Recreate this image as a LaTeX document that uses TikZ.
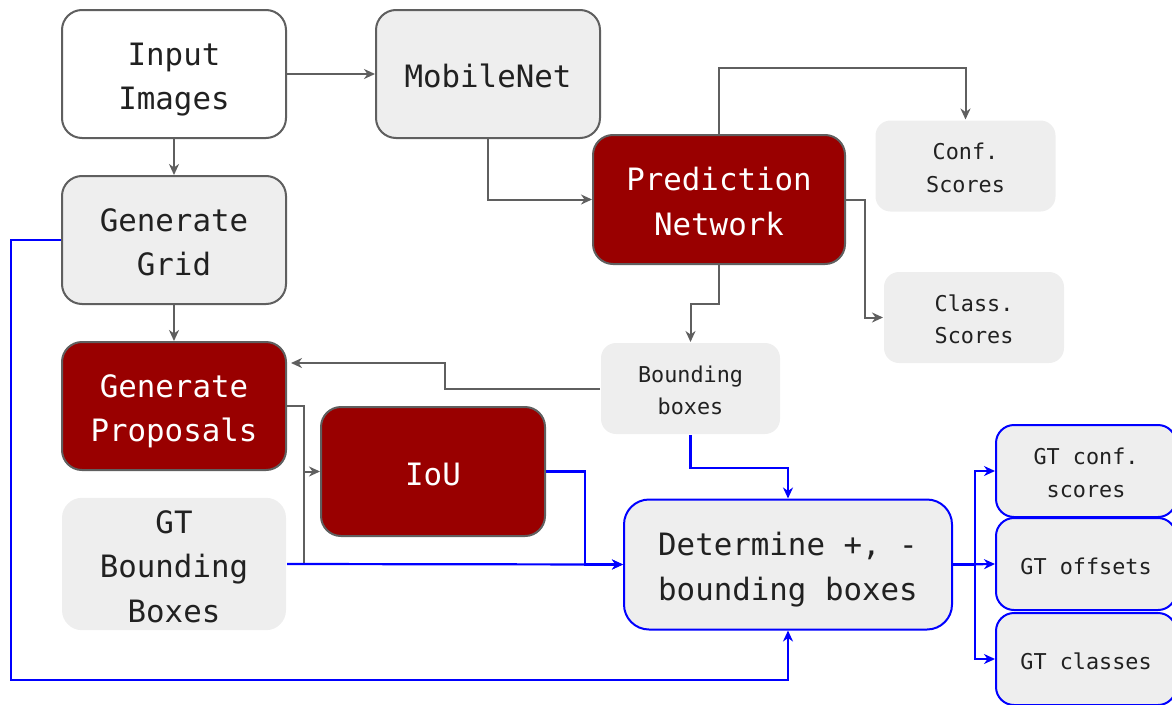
\documentclass[tikz,border=0pt]{standalone}
\usepackage{fontspec}
\newfontfamily\diagfont{DejaVu Sans Mono}
\usetikzlibrary{arrows.meta,calc}
\definecolor{boxfill}{HTML}{EEEEEE}
\definecolor{edgegray}{HTML}{5F5F5F}
\definecolor{darkred}{HTML}{990000}
\definecolor{flowblue}{HTML}{0000FF}
\definecolor{ink}{HTML}{212121}
% struts that give every label the same height above its first line
\newcommand\hiB{\rule{0pt}{35.4pt}}
\newcommand\hiS{\rule{0pt}{26pt}}

\begin{document}
\begin{tikzpicture}[x=1pt,y=-1pt,
  >={Stealth[length=11pt,width=10pt,inset=3.5pt]},
  big/.style={font=\diagfont\fontsize{30.8}{44.5}\selectfont,
              execute at end node={\rule[-8pt]{0pt}{8pt}}},
  small/.style={font=\diagfont\fontsize{21.8}{32.5}\selectfont,
              execute at end node={\rule[-6pt]{0pt}{6pt}}},
  box/.style={rounded corners=20pt, align=center, inner sep=0pt, text=ink, line width=2pt,
              minimum width=224pt, minimum height=128pt},
  plainbox/.style={box, big, draw=edgegray, fill=boxfill},
  whitebox/.style={box, big, draw=edgegray, fill=white},
  redbox/.style={box, big, draw=edgegray, fill=darkred, text=white},
  softbox/.style={box, big, fill=boxfill},
  tagbox/.style={box, small, fill=boxfill, rounded corners=15pt,
                 minimum width=180pt, minimum height=91pt},
  bluebox/.style={box, draw=flowblue, fill=boxfill},
  grayline/.style={draw=edgegray, line width=2pt},
  blueline/.style={draw=flowblue, line width=2.2pt},
]
\useasboundingbox (0,0) rectangle (1172,704);
\clip (0,0) rectangle (1172,704);

% main pipeline boxes
\node[whitebox] (inp) at (174,74) {\hiB Input\\Images};
\node[plainbox] (mob) at (488,74) {\hiB MobileNet};
\node[plainbox] (grid) at (174,240) {\hiB Generate\\Grid};
\node[redbox, minimum width=252pt, minimum height=129pt] (pred) at (719,199.5) {\hiB Prediction\\Network};
\node[tagbox] (conf) at (965.5,166) {\hiS Conf.\\Scores};
\node[tagbox] (cls) at (974,317.5) {\hiS Class.\\Scores};
\node[tagbox, minimum width=179pt] (bb) at (690.5,388.5) {\hiS Bounding\\boxes};
\node[redbox] (prop) at (174,406) {\hiB Generate\\Proposals};
\node[redbox, minimum height=129pt] (iou) at (433,471.5) {\hiB IoU};
\node[softbox, minimum height=129pt] (gtbb) at (174,564) {\hiB GT\\Bounding\\Boxes};
\node[bluebox, big, rounded corners=25pt, minimum width=328pt, minimum height=130pt] (det) at (788,564.5) {\hiB Determine +, -\\bounding boxes};

% ground-truth targets
\node[bluebox, small, rounded corners=18pt, minimum width=180pt, minimum height=92pt] (gtc) at (1086,471) {\hiS GT conf.\\scores};
\node[bluebox, small, rounded corners=18pt, minimum width=180pt, minimum height=92pt] (gto) at (1086,564) {\hiS GT offsets};
\node[bluebox, small, rounded corners=18pt, minimum width=180pt, minimum height=92pt] (gtcl) at (1086,659) {\hiS GT classes};

% network connections
\draw[grayline,->] (inp.east) -- (mob.west);
\draw[grayline,->] (inp.south) -- (grid.north);
\draw[grayline,->] (grid.south) -- (prop.north);
\draw[grayline,->] (mob.south) |- (pred.west);
\draw[grayline,->] (pred.north) -- ++(0,-66) -| (conf.north);
\draw[grayline,->] (pred.east) -- ++(19,0) |- (cls.west);
\draw[grayline,->] (pred.south) -- ++(0,39) -| (bb.north);
\draw[grayline,->] (bb.west) -- ++(-155,0) |- ([xshift=4pt,yshift=43pt]prop.east);
\draw[grayline] (prop.east) -- ++(17,0) coordinate (split) -- (split |- gtbb.east);
\draw[grayline,->] (split |- iou.west) -- (iou.west);

% target assignment
\draw[blueline,->] (gtbb.east) -- (det.west);
\draw[blueline,->] (iou.east) -- ++(39,0) |- (det.west);
\draw[blueline,->] (bb.south) -- ++(0,33) -| (det.north);
\draw[blueline,->] (grid.west) -- ++(-50,0) -- ++(0,440) -| (det.south);
\draw[blueline] (det.east) -- ++(22,0) coordinate (fork);
\draw[blueline,->] (fork) |- (gtc.west);
\draw[blueline,->] (det.east) -- (gto.west);
\draw[blueline,->] (fork) |- (gtcl.west);
\end{tikzpicture}
\end{document}
